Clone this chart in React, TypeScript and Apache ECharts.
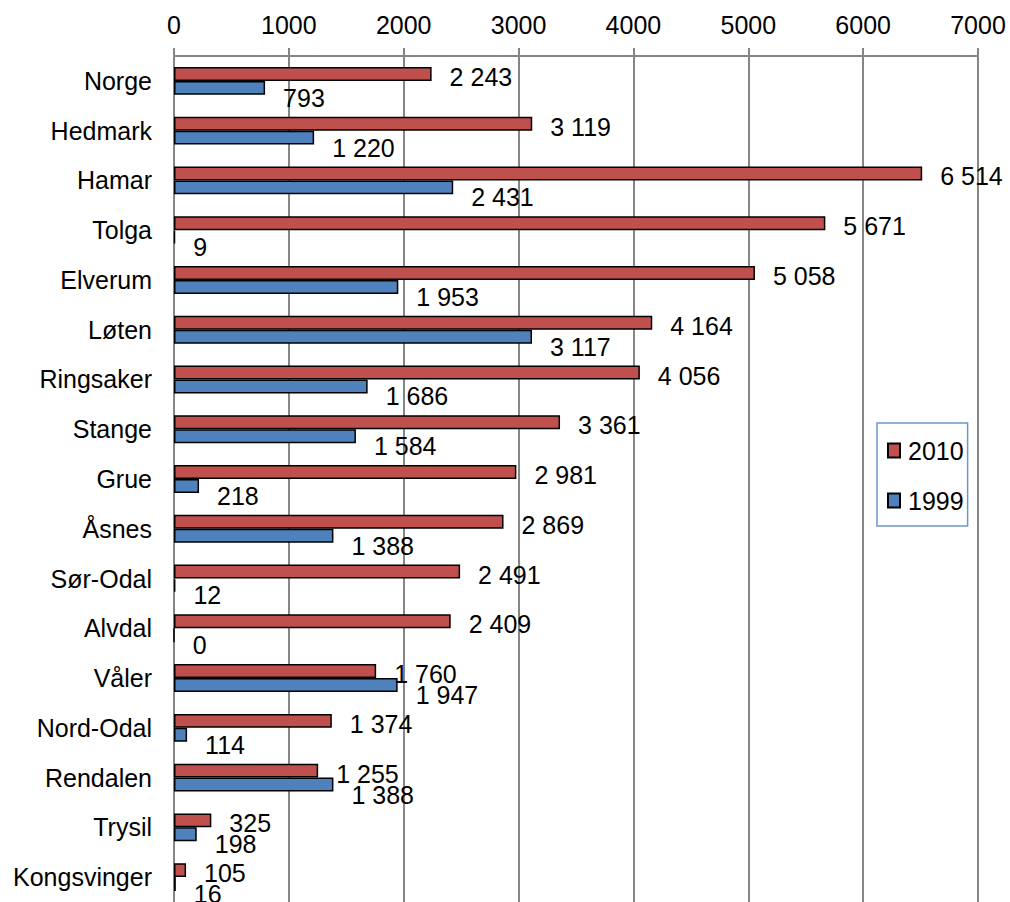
import React, { useEffect, useRef } from "react";
import * as echarts from "echarts";

const categories = [
  "Norge", "Hedmark", "Hamar", "Tolga", "Elverum", "Løten", "Ringsaker", "Stange",
  "Grue", "Åsnes", "Sør-Odal", "Alvdal", "Våler", "Nord-Odal", "Rendalen", "Trysil", "Kongsvinger",
];
const values2010 = [2243, 3119, 6514, 5671, 5058, 4164, 4056, 3361, 2981, 2869, 2491, 2409, 1760, 1374, 1255, 325, 105];
const values1999 = [793, 1220, 2431, 9, 1953, 3117, 1686, 1584, 218, 1388, 12, 0, 1947, 114, 1388, 198, 16];
const seriesNames = ["2010", "1999"];

const FONT = "'Liberation Sans', Arial, sans-serif";
const FS = 25;
const fmt = (v: number) => String(v).replace(/\B(?=(\d{3})+(?!\d))/g, " ");

export default function App() {
  const ref = useRef<HTMLDivElement>(null);
  useEffect(() => {
    if (!ref.current) return;
    const chart = echarts.init(ref.current, null, { renderer: "svg" });
    const labelBase = {
      show: true,
      position: "right",
      distance: 18,
      fontSize: FS,
      fontFamily: FONT,
      color: "#000",
      formatter: (p: any) => fmt(p.value),
    };
    chart.setOption({
      animation: false,
      backgroundColor: "#fff",
      textStyle: { fontFamily: FONT },
      grid: { left: 174, right: 32, top: 56, bottom: -4, containLabel: false },
      legend: {
        orient: "vertical",
        left: 877,
        top: 423,
        padding: [15, 4, 13, 10],
        itemGap: 25,
        itemWidth: 12,
        itemHeight: 14,
        icon: "rect",
        borderColor: "#6D96CC",
        borderWidth: 1.5,
        backgroundColor: "#fff",
        textStyle: { fontSize: FS, fontFamily: FONT, color: "#000", padding: [0, 0, 0, 3] },
        data: seriesNames,
      },
      xAxis: {
        type: "value",
        position: "top",
        min: 0,
        max: 7000,
        interval: 1000,
        axisLine: { show: true, lineStyle: { color: "#868686", width: 2 } },
        axisTick: { show: true, length: 8, lineStyle: { color: "#868686", width: 2 } },
        splitLine: { show: true, lineStyle: { color: "#868686", width: 2 } },
        axisLabel: {
          fontSize: FS,
          fontFamily: FONT,
          color: "#000",
          margin: 19,
          formatter: (v: number) => String(v),
        },
      },
      yAxis: {
        type: "category",
        inverse: true,
        data: categories,
        axisLine: { show: true, lineStyle: { color: "#868686", width: 2 } },
        axisTick: { show: false },
        axisLabel: { fontSize: FS, fontFamily: FONT, color: "#000", margin: 22 },
      },
      series: [
        {
          name: seriesNames[0],
          type: "bar",
          data: values2010,
          barGap: "0%",
          barCategoryGap: "44%",
          itemStyle: { color: "#C0504D", borderColor: "#000", borderWidth: 1.5 },
          label: { ...labelBase, offset: [0, 3] },
        },
        {
          name: seriesNames[1],
          type: "bar",
          data: values1999,
          barGap: "0%",
          barCategoryGap: "44%",
          itemStyle: { color: "#4F81BD", borderColor: "#000", borderWidth: 1.5 },
          label: { ...labelBase, offset: [0, 10] },
        },
      ],
    });
    return () => chart.dispose();
  }, []);
  return (
    <div
      ref={ref}
      style={{ position: "absolute", left: 0, top: 0, width: 1010, height: 902, overflow: "hidden" }}
    />
  );
}
